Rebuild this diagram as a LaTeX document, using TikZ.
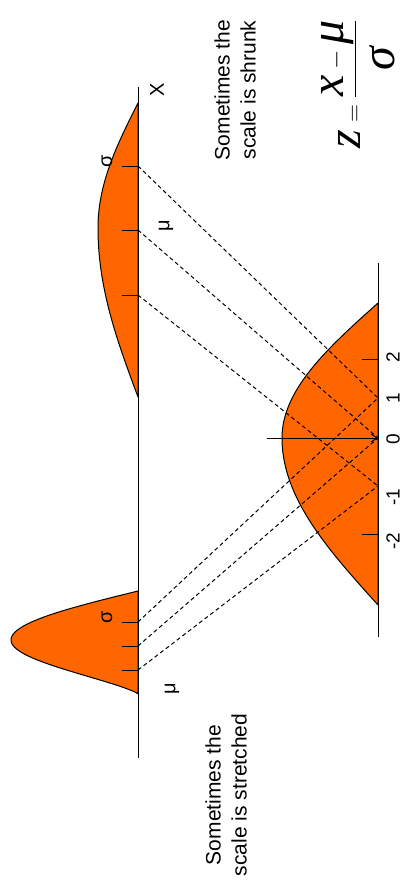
\documentclass[tikz,border=0pt]{standalone}
\usepackage{fontspec}
\setmainfont{Liberation Sans}
\newfontfamily\tnr{Liberation Serif}
\usetikzlibrary{arrows.meta}
\definecolor{myorange}{HTML}{FF6600}
\begin{document}
\begin{tikzpicture}[x=1pt,y=-1pt,
  bell/.style={fill=myorange,draw=black,line width=1pt,line join=round},
  axisline/.style={draw=black,line width=1pt},
  tickmark/.style={draw=black,line width=1pt},
  guide/.style={draw=black,line width=1pt,dash pattern=on 4pt off 3pt},
  lbl/.style={rotate=90,inner sep=0pt,font=\fontsize{20}{23}\selectfont},
  numlbl/.style={rotate=90,inner sep=0pt,font=\fontsize{19}{22}\selectfont},
  note/.style={rotate=90,inner sep=0pt,align=center,font=\fontsize{21}{26}\selectfont}]
\useasboundingbox (0,0) rectangle (404,894);
% ---- curves ----
% shrunk (wide) distribution
\filldraw[bell] plot[domain=-125:0,samples=60,variable=\t] ({138-40*cos(90*\t/125)},{228+\t})
  -- plot[domain=0:169,samples=70,variable=\t] ({138-40*cos(90*\t/169)},{228+\t}) -- cycle;
% stretched (narrow) distribution
\filldraw[bell] plot[domain=-49:0,samples=50,variable=\t] ({138-127*cos(90*\t/49)},{640+\t})
  -- plot[domain=0:53.6,samples=50,variable=\t] ({138-127*(cos(90*\t/54))^1.3},{640+\t})
  -- (138,694) -- cycle;
% standard distribution
\filldraw[bell] plot[domain=-135:0,samples=60,variable=\t] ({378-96*cos(90*\t/135)},{438+\t})
  -- plot[domain=0:167,samples=70,variable=\t] ({378-96*cos(90*\t/167)},{438+\t}) -- cycle;
% ---- named points ----
\coordinate (xtop) at (138,87);
\coordinate (xbot) at (138,758);
\coordinate (ztop) at (378,263);
\coordinate (zbot) at (378,637);
\coordinate (sA) at (138,166);
\coordinate (sB) at (138,230);
\coordinate (sC) at (138,295);
\coordinate (nA) at (138,622);
\coordinate (nB) at (138,646);
\coordinate (nC) at (138,670);
\coordinate (zp1) at (378,398);
\coordinate (z0) at (378,438);
\coordinate (zm1) at (378,486);
\coordinate (zp2) at (378,359);
\coordinate (zm2) at (378,534);
\coordinate (arrowtail) at (267,438);
% ---- axes ----
\draw[axisline] (xtop) -- (xbot);
\draw[axisline] (ztop) -- (zbot);
% ---- ticks ----
\foreach \p in {sA,sB,sC,nA,nB,nC}{\draw[tickmark] (\p) -- ++(-16,0);}
\foreach \p in {zp2,zm2}{\draw[tickmark] (\p) -- ++(-16,0);}
% ---- guides ----
\draw[guide] (sA) -- (zp1);
\draw[guide] (sB) -- (z0);
\draw[guide] (sC) -- (zm1);
\draw[guide] (nA) -- (zp1);
\draw[guide] (nB) -- (z0);
\draw[guide] (nC) -- (zm1);
\draw[line width=1pt,-{Straight Barb[length=6pt,width=8pt]}] (arrowtail) -- (z0);
% ---- labels ----
\node[lbl] (xl) at (157,90) {X};
\node[lbl] (sig1) at (107,161) {σ};
\node[lbl] (mu1) at (166,226) {μ};
\node[lbl] (sig2) at (107,617) {σ};
\node[lbl] (mu2) at (172,689) {μ};
\node[numlbl] (l2) at (393,357) {2};
\node[numlbl] (l1) at (393,398) {1};
\node[numlbl] (l0) at (393,439) {0};
\node[numlbl] (lm1) at (393,497) {-1};
\node[numlbl] (lm2) at (393,541) {-2};
\node[note] (shr) at (235,90) {Sometimes the\\scale is shrunk};
\node[note] (str) at (226,795) {Sometimes the\\scale is stretched};
\node[rotate=90,inner sep=0pt,font=\fontsize{48}{52}\selectfont] (formula) at (358,84)
  {$\hbox{\tnr\itshape z} = \displaystyle\frac{\hbox{\tnr\itshape x} - \hbox{\tnr\itshape μ}}{\rule{0pt}{0.8em}\hbox{\tnr\itshape σ}}$};
\end{tikzpicture}
\end{document}
